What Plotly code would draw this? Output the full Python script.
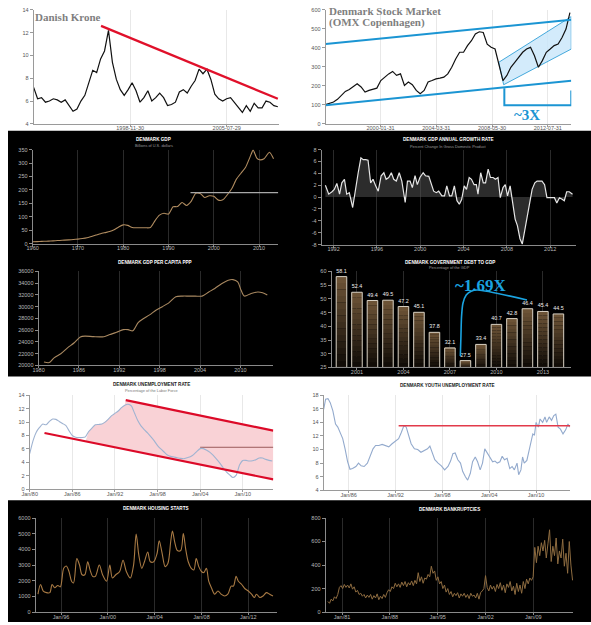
import numpy as np
import plotly.graph_objects as go

W, H = 591, 625

# ---------------- DATA ----------------
# 1 Danish Krone (per USD), equally spaced samples
krone = [7.2, 6.2, 6.3, 5.9, 6.0, 6.2, 6.1, 5.9, 6.1, 5.6, 5.1, 5.3, 6.0, 6.5, 7.6, 8.7, 8.5, 9.7,
         10.4, 12.2, 9.4, 7.9, 7.0, 6.5, 7.0, 7.6, 6.9, 5.9, 6.3, 6.9, 6.0, 6.3, 6.7, 6.3, 5.6, 5.7,
         5.9, 6.8, 7.0, 6.7, 7.3, 7.8, 8.8, 8.4, 8.8, 7.9, 6.6, 6.2, 6.0, 6.2, 6.3, 5.9, 5.4, 5.0,
         5.6, 5.1, 5.8, 5.4, 5.4, 6.0, 5.9, 5.6, 5.5]
krone_span = (1992.25, 2009.1)
krone_trend = ([1996.9, 2009.1], [12.6, 6.2])
krone_xticks = [1998.91, 2005.57]
krone_xlabels = ["1998-11-30", "2005-07-29"]

# 2 OMX Copenhagen
omx = [101, 106, 115, 129, 150, 171, 181, 194, 211, 194, 167, 176, 181, 188, 228, 246, 263, 276,
       255, 263, 202, 220, 206, 176, 159, 176, 220, 228, 237, 241, 246, 263, 298, 342, 377, 377,
       412, 438, 473, 485, 481, 420, 403, 394, 316, 228, 255, 298, 324, 351, 377, 394, 403, 359,
       298, 333, 377, 394, 412, 420, 455, 499, 586]
omx_span = (1995.98, 2014.23)
omx_upper = ([1995.98, 2014.33], [420, 548])
omx_lower = ([1995.98, 2014.33], [98, 227])
omx_channel = ([2008.91, 2014.33, 2014.33, 2009.28, 2008.91], [324, 565, 394, 206, 324])
omx_bracket = ([2009.33, 2009.33, 2014.33, 2014.33], [188, 98, 98, 176])
omx_xticks = [2000.08, 2004.25, 2008.41, 2012.58]
omx_xlabels = ["2000-01-31", "2004-03-31", "2008-05-30", "2012-07-31"]

# 3 GDP (billions USD)
gdp_years = list(range(1960, 2008)) + [2008.0, 2008.7, 2009.5, 2010.1, 2011.1, 2012.3, 2013.2]
gdp = [7, 7.5, 8.5, 9, 10, 11, 12, 13, 14, 15.5, 17, 19, 22, 27, 32, 37, 41, 45, 52, 62,
       70, 68, 60, 59, 59, 59, 60, 85, 106, 113, 110, 137, 138, 153, 142, 157, 187, 187, 172, 178,
       176, 162, 163, 182, 205, 240, 262, 283, 322, 348, 318, 312, 316, 340, 316]
gdp_ref = ([1994.86, 2014.25], [190, 190])

# 4 GDP growth rate (%)
gr_years = [1991.24, 1991.55, 1991.85, 1992.06, 1992.30, 1992.55, 1992.76, 1993.0, 1993.21, 1993.45,
            1993.76, 1994.06, 1994.27, 1994.52, 1994.73, 1994.97, 1995.18, 1995.42, 1995.64, 1995.88,
            1996.12, 1996.39, 1996.64, 1996.85, 1997.09, 1997.33, 1997.55, 1997.79, 1998.06, 1998.30,
            1998.61, 1998.82, 1999.06, 1999.27, 1999.52, 1999.73, 1999.97, 2000.27, 2000.48, 2000.79,
            2001.03, 2001.24, 2001.48, 2001.70, 2002.0, 2002.24, 2002.45, 2002.70, 2002.91, 2003.15,
            2003.39, 2003.61, 2003.82, 2004.06, 2004.27, 2004.52, 2004.73, 2004.97, 2005.18, 2005.33,
            2005.58, 2005.82, 2006.03, 2006.27, 2006.48, 2006.73, 2006.94, 2007.18, 2007.39, 2007.64,
            2007.85, 2008.06, 2008.30, 2008.52, 2008.76, 2008.97, 2009.21, 2009.42, 2009.67, 2009.88,
            2010.12, 2010.33, 2010.58, 2010.79, 2011.03, 2011.24, 2011.48, 2011.70, 2011.94, 2012.15,
            2012.39, 2012.61, 2012.85, 2013.06, 2013.30, 2013.52, 2013.76, 2014.06]
growth = [2.0, 0.5, 0.9, 1.3, 2.3, 0.5, 2.4, 3.0, 0.5, 0.75,
          -1.75, 1.9, 4.1, 6.6, 6.3, 6.3, 6.2, 2.4, 3.0, 1.9,
          1.0, 3.6, 4.1, 3.0, 3.3, 4.1, 3.0, 2.7, 4.1, 2.7,
          -0.9, 2.7, 2.7, 1.6, 3.6, 2.1, 3.3, 4.1, 3.6, 3.5,
          2.1, 1.0, 0.75, 1.0, 0.2, 0.2, 1.9, 0.2, 0.2, 1.9,
          -0.6, -1.2, -0.4, 1.9, 1.3, 3.3, 3.0, 2.1, 2.1, 0.5,
          4.1, 2.4, 2.4, 4.7, 3.3, 3.3, 3.0, 3.3, -0.1, 1.6,
          2.1, 0.2, 1.9, -0.9, -3.7, -4.8, -7.0, -7.9, -5.4, -3.7,
          -1.2, 1.3, 2.4, 2.7, 2.7, 2.7, 2.1, -0.1, -0.1, -0.1,
          -0.1, -1.0, -0.1, -0.3, -0.6, 0.9, 0.9, 0.5]

# 5 GDP per capita PPP
pc_years = [1980.8, 1981.6, 1982.3, 1983.3, 1984.3, 1985.3, 1986.2, 1986.9, 1988.2, 1989.7, 1990.6,
            1991.6, 1992.6, 1993.3, 1994.0, 1994.8, 1995.5, 1996.5, 1997.5, 1998.4, 1999.4, 2000.4,
            2001.4, 2002.3, 2003.3, 2004.3, 2005.3, 2006.2, 2007.2, 2008.2, 2008.9, 2009.6, 2010.1,
            2010.6, 2011.6, 2012.6, 2013.3, 2014.0]
per_capita = [20600, 20500, 21300, 22000, 23000, 23860, 24860, 25000, 24900, 24900, 25260,
              25650, 26100, 26100, 25900, 27300, 27900, 28600, 29450, 30000, 30700, 31700,
              31800, 31800, 31800, 31800, 32500, 33100, 33900, 34500, 34600, 34200, 32800,
              31800, 32250, 32500, 32360, 31970]

# 6 Government debt to GDP (%)
debt_years = list(range(2000, 2015))
debt = [58.1, 52.4, 49.4, 49.5, 47.2, 45.1, 37.8, 32.1, 27.5, 33.4, 40.7, 42.8, 46.4, 45.4, 44.5]
debt_arrow = ([2007.67, 2007.71, 2007.75, 2007.84, 2008.05, 2008.37, 2008.79, 2011.97],
              [29.2, 36.4, 43.6, 48.4, 51.4, 52.8, 53.2, 49.6])

# 7 Unemployment rate (%), equally spaced 1980 -> 2014.15
unemp = [5.3, 7.2, 8.5, 9.2, 9.7, 9.6, 10.1, 10.45, 10.4, 10.1, 9.8, 9.5, 8.7, 8.0, 7.75, 7.7, 7.7,
         7.8, 8.6, 9.1, 9.6, 9.65, 9.7, 10.0, 10.45, 10.95, 11.3, 11.65, 12.15, 12.5, 12.65, 12.4,
         11.3, 10.2, 9.4, 8.85, 8.35, 7.8, 7.2, 6.5, 6.0, 5.55, 5.1, 4.9, 4.8, 4.7, 4.6, 4.55, 4.7,
         4.85, 5.15, 5.65, 6.05, 6.05, 5.8, 5.5, 5.05, 4.5, 3.9, 3.2, 2.6, 2.15, 1.75, 2.1, 3.6,
         4.3, 4.3, 4.2, 4.25, 4.4, 4.65, 4.65, 4.45, 4.3, 4.2]
unemp_span = (1980.0, 2014.15)
unemp_upper = ([1993.52, 2014.29], [13.27, 8.72])
unemp_lower = ([1982.08, 2014.29], [8.37, 1.47])
unemp_ref = ([2004.0, 2014.29], [6.25, 6.25])

# 8 Youth unemployment (%)
yu_years = [1982.8, 1983.05, 1983.35, 1983.64, 1983.98, 1984.32, 1984.61, 1984.91, 1985.24, 1985.54,
            1985.87, 1986.17, 1986.5, 1986.93, 1987.26, 1987.6, 1987.98, 1988.4, 1988.74, 1989.12,
            1989.45, 1989.87, 1990.29, 1990.72, 1991.14, 1991.56, 1991.98, 1992.4, 1992.74, 1993.07,
            1993.37, 1993.66, 1994.0, 1994.42, 1994.84, 1995.26, 1995.68, 1996.1, 1996.4, 1996.69,
            1997.03, 1997.45, 1997.87, 1998.29, 1998.72, 1999.05, 1999.35, 1999.64, 1999.98, 2000.32,
            2000.61, 2000.95, 2001.24, 2001.58, 2001.87, 2002.21, 2002.51, 2002.84, 2003.14, 2003.43,
            2003.77, 2004.11, 2004.44, 2004.74, 2005.03, 2005.37, 2005.66, 2005.96, 2006.29, 2006.63,
            2006.93, 2007.22, 2007.56, 2007.77, 2008.06, 2008.27, 2008.48, 2008.82, 2009.12, 2009.37,
            2009.58, 2009.79, 2010.0, 2010.29, 2010.51, 2010.84, 2011.14, 2011.35, 2011.68, 2011.98,
            2012.27, 2012.53, 2012.82, 2013.12, 2013.45, 2013.79, 2014.08, 2014.29]
youth = [15.9, 17.4, 17.5, 16.9, 15.7, 13.75, 13.3, 12.5, 11.6, 10.1,
         8.2, 7.1, 7.2, 7.5, 8.0, 7.6, 7.5, 8.0, 9.0, 10.1,
         10.6, 10.6, 10.75, 10.6, 10.4, 10.85, 11.2, 11.6, 12.5, 13.5,
         13.3, 12.1, 10.85, 10.1, 10.0, 9.6, 9.9, 10.1, 10.5, 9.6,
         8.5, 8.0, 7.6, 7.0, 7.5, 8.3, 9.4, 9.5, 8.5, 8.0,
         6.75, 6.0, 5.5, 6.5, 8.2, 8.9, 8.2, 7.0, 8.0, 10.1,
         9.4, 8.7, 8.2, 8.3, 8.0, 8.2, 9.0, 8.5, 8.7, 7.2,
         7.5, 7.0, 8.0, 6.3, 7.0, 8.9, 8.0, 8.4, 9.9, 10.85,
         12.3, 12.1, 14.0, 13.3, 14.5, 14.0, 14.8, 14.0, 14.8, 14.3,
         15.0, 15.2, 13.3, 13.0, 12.3, 12.9, 13.75, 13.3]
youth_ref = ([1992.4, 2014.38], [13.5, 13.5])

# 9 Housing starts
hs_years = [1994.03, 1994.25, 1994.48, 1994.76, 1995.04, 1995.24, 1995.46, 1995.72, 1995.94, 1996.23,
            1996.45, 1996.68, 1996.90, 1997.07, 1997.35, 1997.58, 1997.80, 1998.03, 1998.28, 1998.48,
            1998.70, 1998.93, 1999.27, 1999.55, 1999.89, 2000.17, 2000.39, 2000.68, 2001.01, 2001.30,
            2001.58, 2001.92, 2002.20, 2002.42, 2002.65, 2002.90, 2003.13, 2003.41, 2003.63, 2003.92,
            2004.20, 2004.39, 2004.62, 2004.90, 2005.13, 2005.38, 2005.52, 2005.72, 2005.94, 2006.23,
            2006.45, 2006.65, 2006.87, 2007.13, 2007.35, 2007.55, 2007.77, 2008.0, 2008.20, 2008.42,
            2008.62, 2008.85, 2009.13, 2009.41, 2009.69, 2009.97, 2010.25, 2010.54, 2010.73, 2010.96,
            2011.15, 2011.44, 2011.72, 2012.0, 2012.28, 2012.51, 2012.70, 2012.99, 2013.27, 2013.55,
            2013.83, 2014.11]
housing = [1140, 1760, 1345, 1240, 1240, 1760, 1550, 1700, 1610, 2790,
           2940, 2590, 1970, 1860, 3410, 3000, 2380, 2380, 3210, 2690,
           2280, 2280, 3000, 2380, 1970, 3000, 2170, 2380, 2590, 3310,
           2590, 2170, 3000, 4970, 3620, 2790, 3210, 3830, 3210, 3210,
           3720, 4550, 3830, 2900, 3100, 4550, 5170, 4450, 3930, 3930,
           5010, 4030, 3210, 2790, 2690, 3410, 2900, 2590, 2520, 2790,
           1970, 1550, 1140, 1345, 1140, 1030, 1140, 1655, 1655, 2280,
           1970, 1760, 1490, 1345, 1140, 930, 1140, 930, 1030, 1240,
           1140, 1030]

# 10 Bankruptcies, equally spaced samples
bankr = [90, 75, 110, 95, 130, 115, 150, 210, 225, 200, 235, 210, 230, 205, 240, 195,
         215, 170, 185, 150, 160, 135, 150, 120, 145, 125, 150, 110, 140, 120, 155, 105,
         135, 115, 150, 125, 165, 190, 175, 215, 200, 245, 215, 240, 210, 255, 225, 260,
         215, 250, 230, 265, 225, 270, 240, 335, 260, 300, 245, 290, 280, 320, 300, 390,
         330, 350, 270, 300, 240, 260, 200, 230, 170, 200, 150, 175, 130, 160, 140, 165,
         120, 155, 135, 160, 125, 150, 115, 160, 135, 145, 120, 160, 110, 165, 180, 200,
         310, 210, 180, 230, 195, 220, 175, 235, 200, 250, 185, 230, 165, 240, 210, 260,
         180, 220, 150, 245, 175, 230, 160, 260, 200, 280, 240, 290, 270, 300, 550, 420,
         560, 480, 590, 520, 610, 460, 580, 700, 430, 560, 480, 630, 410, 520, 460, 620,
         390, 500, 330, 600, 400, 270]
bankr_span = (1978.93, 2014.75)

# ---------------- LAYOUT HELPERS ----------------
layout = {}
annotations = []
shapes = []
TICKFONT = "Liberation Sans"


def key(i):
    return "" if i == 1 else str(i)


def setup(i, px0, px1, pyt, pyb, xr, yr, dark, xtv, xtt, ytv):
    fg = "#b8b8b8" if dark else "#555555"
    line = "#8a8a8a" if dark else "#9a9a9a"
    grid = "#2a2a2a" if dark else "#e8e8e8"
    ylab = [str(v) for v in ytv]
    xa = dict(domain=[px0 / W, px1 / W], range=xr, anchor="y" + key(i), tickmode="array",
              tickvals=xtv, ticktext=xtt, showgrid=True, gridcolor=grid, gridwidth=1,
              showline=True, linecolor=line, linewidth=1, ticks="outside", ticklen=2,
              ticklabelstandoff=-3,
              tickcolor=line, tickfont=dict(size=5.5, color=fg, family=TICKFONT),
              zeroline=False, fixedrange=True)
    common = dict(range=yr, tickmode="array", tickvals=ytv, ticktext=ylab, showgrid=False,
                  showline=True, linecolor=line, linewidth=1, ticks="outside", ticklen=3,
                  tickcolor=line, tickfont=dict(size=5.5, color=fg, family=TICKFONT),
                  zeroline=False, fixedrange=True)
    ya = dict(domain=[1 - pyb / H, 1 - pyt / H], anchor="x" + key(i), side="left", **common)
    yb = dict(overlaying="y" + key(i), anchor="x" + key(i), side="right", **common)
    layout["xaxis" + key(i)] = xa
    layout["yaxis" + key(i)] = ya
    layout["yaxis" + str(10 + i)] = yb


def ax(i):
    return dict(xaxis="x" + key(i), yaxis="y" + key(i))


def title(text, xpx, ypx, size=4.6, color="#ffffff"):
    annotations.append(dict(text=text, x=xpx / W, y=1 - ypx / H, xref="paper", yref="paper",
                            showarrow=False, xanchor="center", yanchor="middle",
                            font=dict(size=size, color=color, family="Liberation Sans")))


SUB = 3.9

fig = go.Figure()

# backgrounds
shapes.append(dict(type="rect", xref="paper", yref="paper", x0=0, x1=1, y0=1 - 377 / H, y1=1 - 129 / H,
                   fillcolor="#000000", line=dict(width=0), layer="below"))
shapes.append(dict(type="rect", xref="paper", yref="paper", x0=0, x1=1, y0=0, y1=1 - 502 / H,
                   fillcolor="#000000", line=dict(width=0), layer="below"))

BLUE = "#1b95d3"

# ---- Panel 1: Danish Krone
setup(1, 26, 275, 7, 122, [krone_span[0], krone_span[1] + 0.1], [4, 14], False,
      krone_xticks, krone_xlabels, [4, 6, 8, 10, 12, 14])
kx = np.linspace(krone_span[0], krone_span[1], len(krone))
fig.add_trace(go.Scatter(x=kx, y=krone, mode="lines", line=dict(color="#111111", width=1.2), **ax(1)))
fig.add_trace(go.Scatter(x=krone_trend[0], y=krone_trend[1], mode="lines",
                         line=dict(color="#e0102a", width=2.2), **ax(1)))
annotations.append(dict(text="<b>Danish Krone</b>", x=26 / W, y=1 - 14 / H, xref="paper", yref="paper",
                        showarrow=False, xanchor="left", yanchor="middle", borderpad=0,
                        font=dict(size=11, color="#7f7f7f", family="Liberation Serif")))

# ---- Panel 2: OMX Copenhagen
setup(2, 322, 571, 7, 122, [omx_span[0], 2014.33], [0, 600], False,
      omx_xticks, omx_xlabels, [0, 100, 200, 300, 400, 500, 600])
fig.add_trace(go.Scatter(x=omx_channel[0], y=omx_channel[1], mode="lines", fill="toself",
                         fillcolor="rgba(200,230,250,0.8)", line=dict(color=BLUE, width=0.8), **ax(2)))
ox = np.linspace(omx_span[0], omx_span[1], len(omx))
fig.add_trace(go.Scatter(x=ox, y=omx, mode="lines", line=dict(color="#111111", width=1.2), **ax(2)))
for seg in (omx_upper, omx_lower):
    fig.add_trace(go.Scatter(x=seg[0], y=seg[1], mode="lines", line=dict(color=BLUE, width=2), **ax(2)))
fig.add_trace(go.Scatter(x=omx_bracket[0], y=omx_bracket[1], mode="lines",
                         line=dict(color=BLUE, width=2), **ax(2)))
annotations.append(dict(text="<b>Denmark Stock Market</b>", x=324 / W, y=1 - 8 / H,
                        xref="paper", yref="paper", showarrow=False, xanchor="left", yanchor="middle",
                        borderpad=0, font=dict(size=11, color="#7f7f7f", family="Liberation Serif")))
annotations.append(dict(text="<b>(OMX Copenhagen)</b>", x=324 / W, y=1 - 20 / H,
                        xref="paper", yref="paper", showarrow=False, xanchor="left", yanchor="middle",
                        borderpad=0, font=dict(size=11, color="#7f7f7f", family="Liberation Serif")))
annotations.append(dict(text="<b>~3X</b>", x=526 / W, y=1 - 113 / H, xref="paper", yref="paper",
                        showarrow=False, xanchor="center", yanchor="middle",
                        font=dict(size=15, color=BLUE, family="Liberation Serif")))

# ---- Panel 3: GDP
setup(3, 25, 274, 148, 243, [1960, 2014.25], [0, 350], True,
      [1960, 1970, 1980, 1990, 2000, 2010], ["1960", "1970", "1980", "1990", "2000", "2010"],
      [0, 50, 100, 150, 200, 250, 300, 350])
fig.add_trace(go.Scatter(x=gdp_years, y=gdp, mode="lines", line=dict(color="#b08c60", width=1.1,
                         shape="spline", smoothing=0.6), **ax(3)))
fig.add_trace(go.Scatter(x=gdp_ref[0], y=gdp_ref[1], mode="lines", line=dict(color="#a8a8a8", width=1.4), **ax(3)))
title("<b>DENMARK GDP</b>", 148, 137.5)
title("Billions of U.S. dollars", 148, 144, size=SUB, color="#9a9a9a")

# ---- Panel 4: GDP growth
setup(4, 318, 576, 148, 244, [1990.9, 2014.4], [-8, 8], True,
      [1992, 1996, 2000, 2004, 2008, 2012], ["1992", "1996", "2000", "2004", "2008", "2012"],
      [-8, -6, -4, -2, 0, 2, 4, 6, 8])
fig.add_trace(go.Scatter(x=gr_years, y=growth, mode="lines", fill="tozeroy",
                         fillcolor="rgba(80,80,80,0.55)", line=dict(color="#e6e6e6", width=1.2), **ax(4)))
title("<b>DENMARK GDP ANNUAL GROWTH RATE</b>", 447, 138)
title("Percent Change In Gross Domestic Product", 447, 145, size=SUB, color="#9a9a9a")

# ---- Panel 5: GDP per capita PPP
setup(5, 31, 269, 271, 366, [1980, 2014.9], [20000, 36000], True,
      [1980, 1986, 1992, 1998, 2004, 2010], ["1980", "1986", "1992", "1998", "2004", "2010"],
      list(range(20000, 36001, 2000)))
fig.add_trace(go.Scatter(x=pc_years, y=per_capita, mode="lines",
                         line=dict(color="#a88860", width=1.1, shape="spline", smoothing=0.8), **ax(5)))
title("<b>DENMARK GDP PER CAPITA PPP</b>", 149, 262)

# ---- Panel 6: Government debt to GDP
setup(6, 328, 571, 271, 368, [1999.36, 2014.83], [25, 60], True,
      [2001, 2004, 2007, 2010, 2013], ["2001", "2004", "2007", "2010", "2013"],
      [25, 30, 35, 40, 45, 50, 55, 60])
NSEG = 14
bottom_rgb = np.array([14, 10, 6])
top_rgb = np.array([112, 86, 56])
dv = np.array(debt) - 25
for k in range(NSEG):
    frac = (k + 0.5) / NSEG
    c = bottom_rgb + (top_rgb - bottom_rgb) * frac
    fig.add_trace(go.Bar(x=debt_years, y=dv / NSEG, base=25 + dv * k / NSEG, width=0.68,
                         marker=dict(color="rgb(%d,%d,%d)" % tuple(c.astype(int)), line=dict(width=0)),
                         **ax(6)))
fig.add_trace(go.Bar(x=debt_years, y=dv, base=25, width=0.68,
                     marker=dict(color="rgba(0,0,0,0)", line=dict(color="#d9d2c4", width=1)),
                     text=["%.1f" % v for v in debt], textposition="outside", cliponaxis=False,
                     textfont=dict(size=5.5, color="#f0f0f0", family=TICKFONT), **ax(6)))
fig.add_trace(go.Scatter(x=debt_arrow[0], y=debt_arrow[1], mode="lines",
                         line=dict(color="#1aa3e0", width=1.6, shape="spline", smoothing=0.8), **ax(6)))
title("<b>DENMARK GOVERNMENT DEBT TO GDP</b>", 448, 262)
title("Percentage of the GDP", 448, 267.5, size=SUB, color="#9a9a9a")
annotations.append(dict(text="<b>~1.69X</b>", x=479 / W, y=1 - 285 / H, xref="paper", yref="paper",
                        showarrow=False, xanchor="center", yanchor="middle",
                        font=dict(size=17, color="#1aa3e0", family="Liberation Serif")))

# ---- Panel 7: Unemployment
setup(7, 22, 269, 396, 491, [1980, 2014.3], [0, 14], False,
      [1980, 1986, 1992, 1998, 2004, 2010], ["Jan/80", "Jan/86", "Jan/92", "Jan/98", "Jan/04", "Jan/10"],
      [0, 2, 4, 6, 8, 10, 12, 14])
ux = np.linspace(unemp_span[0], unemp_span[1], len(unemp))
uy = np.array(unemp)
x_start = 1987.85
lslope = (unemp_lower[1][1] - unemp_lower[1][0]) / (unemp_lower[0][1] - unemp_lower[0][0])
low_start = unemp_lower[1][0] + lslope * (x_start - unemp_lower[0][0])
sel = (ux >= x_start) & (ux <= unemp_upper[0][0])
poly_x = [x_start, unemp_lower[0][1], unemp_upper[0][1], unemp_upper[0][0]] + list(ux[sel][::-1]) + [x_start]
poly_y = [low_start, unemp_lower[1][1], unemp_upper[1][1], unemp_upper[1][0]] + list(uy[sel][::-1]) + [low_start]
fig.add_trace(go.Scatter(x=poly_x, y=poly_y, mode="lines", fill="toself", fillcolor="#f9d2d6",
                         line=dict(width=0), **ax(7)))
fig.add_trace(go.Scatter(x=unemp_ref[0], y=unemp_ref[1], mode="lines", line=dict(color="#9a5a5a", width=1), **ax(7)))
fig.add_trace(go.Scatter(x=ux, y=unemp, mode="lines",
                         line=dict(color="#9fb3d1", width=1.1, shape="spline", smoothing=0.6), **ax(7)))
for seg in (unemp_upper, unemp_lower):
    fig.add_trace(go.Scatter(x=seg[0], y=seg[1], mode="lines", line=dict(color="#dc0a28", width=2.2), **ax(7)))
title("<b>DENMARK UNEMPLOYMENT RATE</b>", 145, 385, color="#222222")
title("Percentage of the Labor Force", 145, 391, size=SUB, color="#777777")

# ---- Panel 8: Youth unemployment
setup(8, 320, 570, 396, 492, [1982.8, 2014.38], [4, 18], False,
      [1986, 1992, 1998, 2004, 2010], ["Jan/86", "Jan/92", "Jan/98", "Jan/04", "Jan/10"],
      [4, 6, 8, 10, 12, 14, 16, 18])
fig.add_trace(go.Scatter(x=yu_years, y=youth, mode="lines", line=dict(color="#93aacd", width=1.1), **ax(8)))
fig.add_trace(go.Scatter(x=youth_ref[0], y=youth_ref[1], mode="lines", line=dict(color="#e23a4a", width=1.4), **ax(8)))
title("<b>DENMARK YOUTH UNEMPLOYMENT RATE</b>", 446, 386, color="#222222")

# ---- Panel 9: Housing starts
setup(9, 28, 273, 520, 615, [1993.83, 2014.48], [0, 6000], True,
      [1996, 2000, 2004, 2008, 2012], ["Jan/96", "Jan/00", "Jan/04", "Jan/08", "Jan/12"],
      [0, 1000, 2000, 3000, 4000, 5000, 6000])
fig.add_trace(go.Scatter(x=hs_years, y=housing, mode="lines",
                         line=dict(color="#a87a44", width=1.1, shape="spline", smoothing=0.9), **ax(9)))
title("<b>DENMARK HOUSING STARTS</b>", 150, 510)

# ---- Panel 10: Bankruptcies
setup(10, 322, 573, 520, 615, [1978.6, 2014.85], [0, 800], True,
      [1981, 1988, 1995, 2002, 2009], ["Jan/81", "Jan/88", "Jan/95", "Jan/02", "Jan/09"],
      [0, 200, 400, 600, 800])
bx = np.linspace(bankr_span[0], bankr_span[1], len(bankr))
fig.add_trace(go.Scatter(x=bx, y=bankr, mode="lines", line=dict(color="#8e6c40", width=1), **ax(10)))
title("<b>DENMARK BANKRUPTCIES</b>", 448, 511)

fig.update_layout(**layout)
fig.update_layout(width=W, height=H, margin=dict(l=0, r=0, t=0, b=0), showlegend=False,
                  paper_bgcolor="#ffffff", plot_bgcolor="rgba(0,0,0,0)", barmode="overlay",
                  annotations=annotations, shapes=shapes, hovermode=False)
fig.write_html("out.html", config={"displayModeBar": False})
